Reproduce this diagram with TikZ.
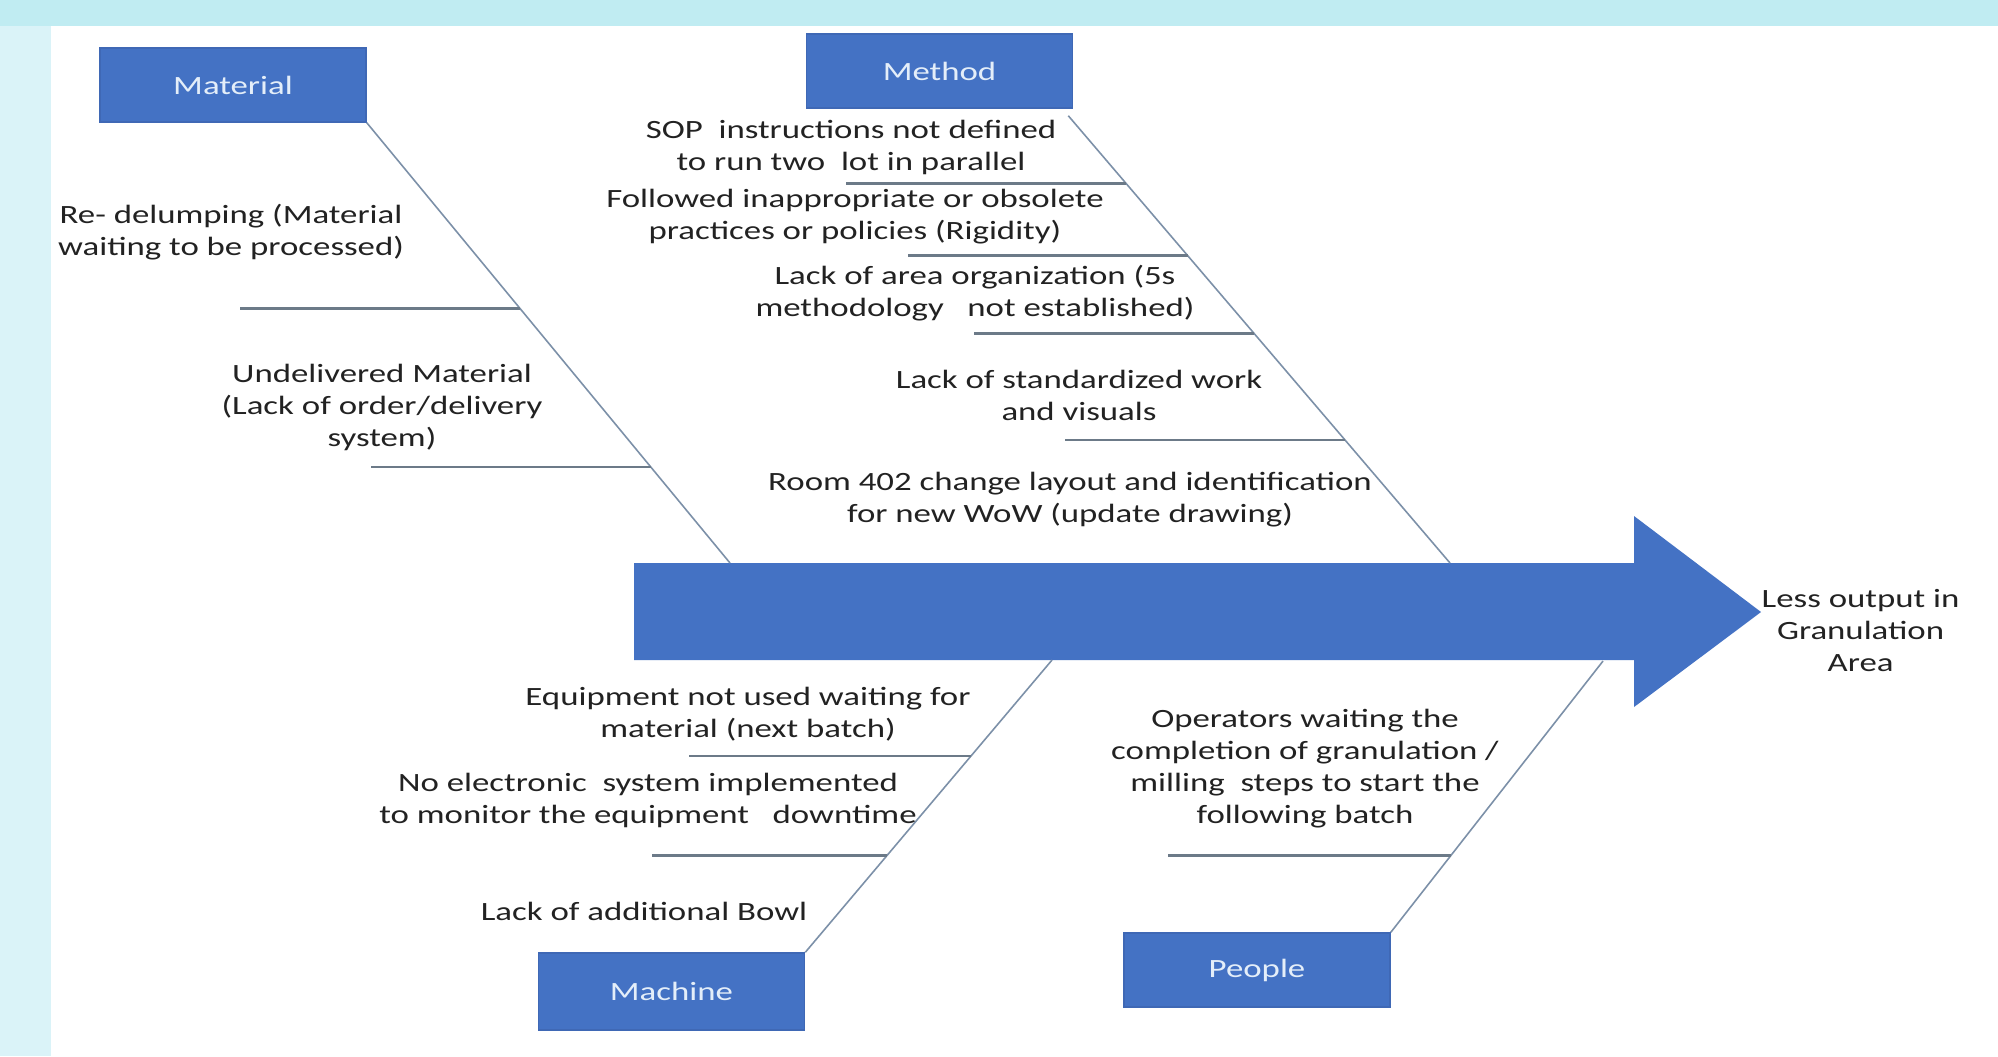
\documentclass[tikz,border=0pt]{standalone}
\usepackage{fontspec}
\setmainfont{Carlito}[FakeStretch=1.32]
\usepackage{xcolor}
\usepackage{tikz}
\usetikzlibrary{
  positioning,
  calc
}
\definecolor{boxblue}{HTML}{4472C4}
\definecolor{boxedge}{HTML}{3F68B5}
\definecolor{boxtext}{HTML}{E4EEF9}
\definecolor{topband}{HTML}{C0ECF2}
\definecolor{sideband}{HTML}{DAF3F8}
\definecolor{bonecol}{HTML}{7C90A8}
\definecolor{ribcol}{HTML}{6C7A88}
\definecolor{textcol}{HTML}{222222}

\begin{document}
\begin{tikzpicture}[
      x=0.01cm, y=-0.01cm,
      category/.style={rectangle, draw=boxedge, fill=boxblue, minimum width=2.66cm, minimum height=0.74cm, text=boxtext, font=\fontsize{7.5}{9.1}\selectfont},
      cause/.style={align=center, inner sep=0pt, text=textcol, font=\fontsize{7.5}{9.1}\selectfont},
      bone/.style={draw=bonecol, line width=0.45pt},
      rib/.style={draw=ribcol, line width=0.7pt},
      spine/.style={fill=boxblue}
    ]
      % Background
      \useasboundingbox (0,0) rectangle (1998,1056);
      \fill[white] (0,0) rectangle (1998,1056);
      \fill[topband] (0,0) rectangle (1998,26);
      \fill[sideband] (0,26) rectangle (51,1056);

      % Four categories
      \node[category] (mat) at (233,85) {Material};
      \node[category] (meth) at (939.5,71) {Method};
      \node[category, minimum height=0.77cm] (mach) at (671.5,991.5) {Machine};
      \node[category] (ppl) at (1257,970) {People};

      % Spine
      \fill[spine] (634,563) -- (1634,563) -- (1634,516) -- (1761,612) -- (1634,707) -- (1634,660) -- (634,660) -- cycle;
      \coordinate (tip) at (1761,630);
      \node[cause, anchor=west] (effect) at (tip) {Less output in\\Granulation\\Area};

      % Bones
      \coordinate (matend) at (730,563);
      \coordinate (methfoot) at ($(meth.south east)+(-5,7)$);
      \coordinate (methend) at (1450,563);
      \coordinate (machtop) at (1052,660);
      \coordinate (ppltop) at (1603,661);
      \draw[bone] (mat.south east) -- coordinate[pos=0.422] (mat1) coordinate[pos=0.782] (mat2) (matend);
      \draw[bone] (methfoot) -- coordinate[pos=0.152] (meth1) coordinate[pos=0.3125] (meth2)
        coordinate[pos=0.487] (meth3) coordinate[pos=0.725] (meth4) (methend);
      \draw[bone] (machtop) -- coordinate[pos=0.328] (mach1) coordinate[pos=0.669] (mach2) (mach.north east);
      \draw[bone] (ppltop) -- coordinate[pos=0.717] (ppl1) (ppl.north east);

      % Ribs
      \draw[rib] (mat1) -- ++(-280,0);
      \draw[rib] (mat2) -- ++(-280,0);
      \foreach \i in {1,...,4}
        \draw[rib] (meth\i) -- ++(-280,0);
      \draw[rib] (mach1) -- ++(-282,0);
      \draw[rib] (mach2) -- ++(-235,0);
      \draw[rib] (ppl1) -- ++(-283,0);

      % Causes
      \node[cause] (matc1) at (231,232) {Re- delumping (Material\\waiting to be processed)};
      \node[cause] (matc2) at (382,407) {Undelivered Material\\(Lack of order/delivery\\system)};
      \node[cause] (methc1) at (851,147) {SOP\ \ instructions not defined\\to run two\ \ lot in parallel};
      \node[cause] (methc2) at (855,217) {Followed inappropriate or obsolete\\practices or policies (Rigidity)};
      \node[cause] (methc3) at (975,293) {Lack of area organization (5s\\methodology\ \ \ not established)};
      \node[cause] (methc4) at (1079,395) {Lack of standardized work\\and visuals};
      \node[cause] (methc5) at (1070,500) {Room 402 change layout and identification\\for new WoW (update drawing)};
      \node[cause] (machc1) at (748,714) {Equipment not used waiting for\\material (next batch)};
      \node[cause] (machc2) at (648,800) {No electronic\ \ system implemented\\to monitor the equipment\ \ \ downtime};
      \node[cause] (machc3) at (644,911) {Lack of additional Bowl};
      \node[cause] (pplc1) at (1305,769) {Operators waiting the\\completion of granulation /\\milling\ \ steps to start the\\following batch};
    \end{tikzpicture}
\end{document}
